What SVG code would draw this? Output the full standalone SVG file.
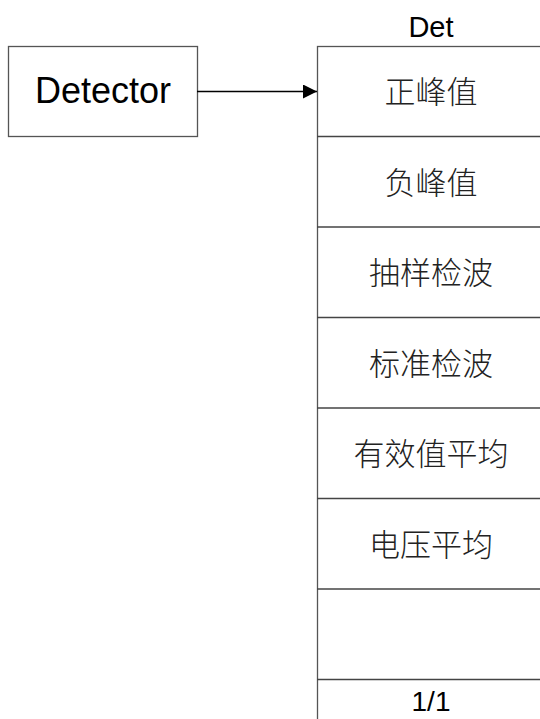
<svg xmlns="http://www.w3.org/2000/svg" width="540" height="719" viewBox="0 0 540 719">
<style>
.box{fill:#fff;stroke:#555;stroke-width:1.3}
.sep{stroke:#444;stroke-width:1.3}
.lat{font-family:"Liberation Sans",Arial,sans-serif;fill:#000;text-anchor:middle}
.cjk{font-family:"Noto Sans CJK SC","Noto Sans CJK JP",sans-serif;font-size:31px;fill:#222;text-anchor:middle;font-weight:300}
</style>
<defs>
<marker id="ah" markerWidth="14" markerHeight="14" refX="14" refY="7" orient="auto" markerUnits="userSpaceOnUse">
<path d="M0,0 L14,7 L0,14 Z" fill="#000"/>
</marker>
</defs>
<rect width="540" height="719" fill="#fff"/>
<g id="detector">
<rect class="box" x="8.5" y="46.5" width="189" height="90"/>
<text class="lat" x="103" y="103" font-size="36">Detector</text>
</g>
<g id="det-menu">
<text class="lat" x="431" y="37" font-size="29">Det</text>
<rect class="box" x="317.5" y="46.5" width="260" height="700"/>
<line class="sep" x1="317" y1="136.5" x2="540" y2="136.5"/>
<line class="sep" x1="317" y1="227" x2="540" y2="227"/>
<line class="sep" x1="317" y1="317.5" x2="540" y2="317.5"/>
<line class="sep" x1="317" y1="408" x2="540" y2="408"/>
<line class="sep" x1="317" y1="498.5" x2="540" y2="498.5"/>
<line class="sep" x1="317" y1="589" x2="540" y2="589"/>
<line class="sep" x1="317" y1="679.5" x2="540" y2="679.5"/>
</g>
<g id="item1"><text class="cjk" x="431" y="103">正峰值</text></g>
<g id="item2"><text class="cjk" x="431" y="193.5">负峰值</text></g>
<g id="item3"><text class="cjk" x="431" y="284">抽样检波</text></g>
<g id="item4"><text class="cjk" x="431" y="374.5">标准检波</text></g>
<g id="item5"><text class="cjk" x="431" y="465">有效值平均</text></g>
<g id="item6"><text class="cjk" x="431" y="555.5">电压平均</text></g>
<g id="item7"></g>
<g id="page"><text class="lat" x="431" y="711" font-size="28">1/1</text></g>
<g id="connectors">
<line x1="197" y1="91.5" x2="317" y2="91.5" stroke="#000" stroke-width="1.3" marker-end="url(#ah)"/>
</g>
</svg>
